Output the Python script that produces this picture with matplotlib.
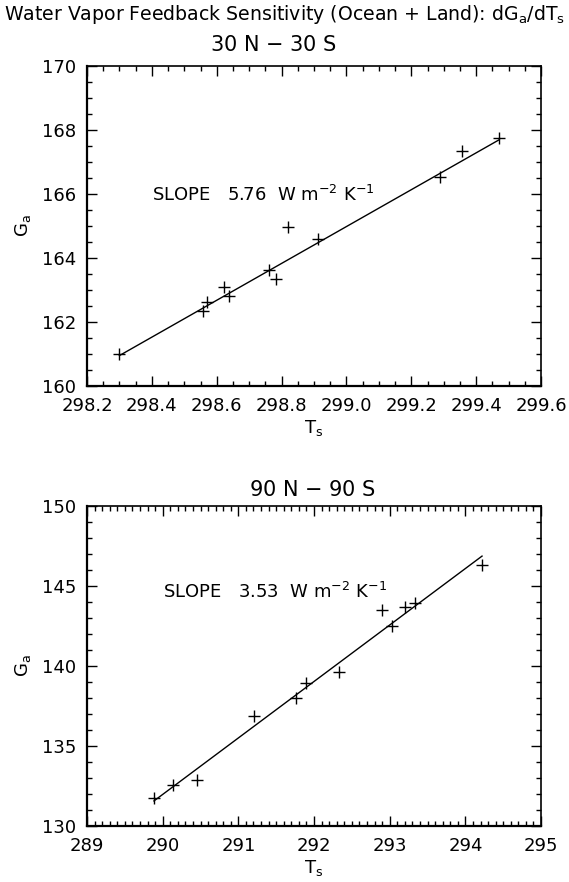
import matplotlib
matplotlib.use("Agg")
import matplotlib.pyplot as plt
import numpy as np
from matplotlib.ticker import MultipleLocator

plt.rcParams['font.family'] = ['DejaVu Sans']
plt.rcParams['mathtext.fontset'] = 'dejavusans'

# 30N-30S: surface temperature vs greenhouse effect
ts_trop = [298.30, 298.557, 298.569, 298.622, 298.638, 298.76,
           298.783, 298.819, 298.913, 299.288, 299.355, 299.471]
ga_trop = [161.0, 162.35, 162.63, 163.10, 162.81, 163.63,
           163.34, 164.98, 164.60, 166.52, 167.33, 167.74]
slope_trop = 5.76
y0_trop = 160.95   # fit value at the coldest point

# 90N-90S
ts_glob = [289.885, 290.14, 290.46, 291.21, 291.76, 291.89,
           292.33, 292.90, 293.03, 293.20, 293.33, 294.22]
ga_glob = [131.75, 132.54, 132.86, 136.86, 137.96, 138.9,
           139.59, 143.48, 142.5, 143.65, 143.9, 146.29]
slope_glob = 3.53
y0_glob = 131.55


def panel(ax, ts, ga, slope, y0, xlim, ylim, xmaj, xmin, ymaj, ymin, xfmt, txt_xy):
    ts = np.array(ts)
    ax.plot(ts, ga, '+', color='black', ms=9, mew=1.0)
    xx = np.array([ts.min(), ts.max()])
    ax.plot(xx, y0 + slope * (xx - ts.min()), color='black', lw=1.0)
    ax.set_xlim(*xlim)
    ax.set_ylim(*ylim)
    ax.xaxis.set_major_locator(MultipleLocator(xmaj))
    ax.xaxis.set_minor_locator(MultipleLocator(xmin))
    ax.yaxis.set_major_locator(MultipleLocator(ymaj))
    ax.yaxis.set_minor_locator(MultipleLocator(ymin))
    ax.xaxis.set_major_formatter(plt.FormatStrFormatter(xfmt))
    ax.tick_params(which='both', direction='in', top=True, right=True,
                   labelsize=13, width=1.0)
    ax.tick_params(which='major', length=7, pad=8)
    ax.tick_params(which='minor', length=3.5)
    for s in ax.spines.values():
        s.set_linewidth(1.2)
    ax.spines['left'].set_linewidth(1.6)
    ax.spines['bottom'].set_linewidth(1.6)
    ax.set_xlabel('T$_\\mathregular{s}$', fontsize=13, labelpad=2)
    ax.set_ylabel('G$_\\mathregular{a}$', fontsize=13, labelpad=6)
    ax.text(txt_xy[0], txt_xy[1],
            'SLOPE   %.2f  W m$^{\\mathregular{-2}}$ K$^{\\mathregular{-1}}$' % slope,
            fontsize=13, ha='left', va='center')


fig = plt.figure(figsize=(5.69, 8.82), dpi=100)
ax1 = fig.add_axes([0.1529, 0.5624, 0.798, 0.3628])
ax2 = fig.add_axes([0.1529, 0.0638, 0.798, 0.3628])

panel(ax1, ts_trop, ga_trop, slope_trop, y0_trop, (298.2, 299.6), (160, 170),
      0.2, 0.05, 2, 0.5, '%.1f', (298.40, 165.97))
panel(ax2, ts_glob, ga_glob, slope_glob, y0_glob, (289, 295), (130, 150),
      1, 0.1, 5, 1, '%d', (290.0, 144.6))

fig.text(0.5, 0.983, 'Water Vapor Feedback Sensitivity (Ocean + Land): dG$_\\mathregular{a}$/dT$_\\mathregular{s}$',
         ha='center', va='center', fontsize=13.6)
fig.text(273 / 569, 1 - 45 / 882, '30 N $-$ 30 S', ha='center', va='center', fontsize=15)
fig.text(312 / 569, 1 - 490 / 882, '90 N $-$ 90 S', ha='center', va='center', fontsize=15)

fig.savefig('out.png', dpi=100)
